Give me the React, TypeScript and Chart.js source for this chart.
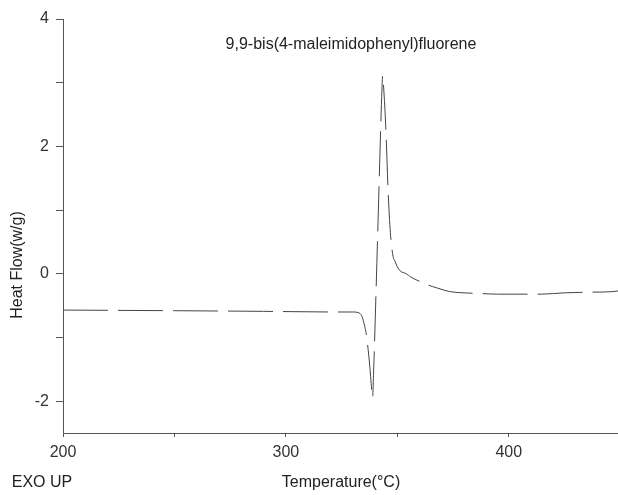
import React, { useEffect, useRef } from "react";
import { Chart, registerables } from "chart.js";

Chart.register(...registerables);

const chartTitle = "9,9-bis(4-maleimidophenyl)fluorene";
const xAxisTitle = "Temperature(°C)";
const yAxisTitle = "Heat Flow(w/g)";
const cornerNote = "EXO UP";

const xTicks = [200, 250, 300, 350, 400];
const xLabelled = [200, 300, 400];
const yTicks = [-2, -1, 0, 1, 2, 3, 4];
const yLabelled = [-2, 0, 2, 4];

const temperature = [
  200, 250, 290, 320, 330, 332.5, 334, 335.4, 336.2, 336.9, 337.5, 338.0, 338.5,
  338.9, 339.3, 341.2, 343.1, 343.4, 343.9, 344.8, 345.9, 346.5, 347.0, 348.1,
  348.9, 350, 351.1, 354, 356, 360, 364, 367.6, 373.5, 380, 387, 395, 405, 415,
  424.4, 435, 446.8, 449,
];
const heatFlow = [
  -0.57, -0.58, -0.59, -0.6, -0.6, -0.61, -0.66, -0.83, -0.98, -1.19, -1.4, -1.61,
  -1.82, -1.95, -1.6, 0.64, 2.9, 3.11, 2.9, 2.31, 1.27, 0.85, 0.59, 0.27, 0.2,
  0.11, 0.05, 0.0, -0.05, -0.12, -0.18, -0.22, -0.28, -0.3, -0.31, -0.32, -0.32,
  -0.32, -0.3, -0.29, -0.28, -0.27,
];

const FONT = '"Liberation Sans", Arial, sans-serif';

const textPlugin = {
  id: "textPlugin",
  afterDraw(chart: any) {
    const ctx = chart.ctx;
    ctx.save();
    ctx.fillStyle = "#222";
    ctx.font = `16px ${FONT}`;
    ctx.textAlign = "center";
    ctx.textBaseline = "middle";
    ctx.fillText(chartTitle, 351, 45);
    ctx.fillText(xAxisTitle, 341, 483);
    ctx.fillText(cornerNote, 42, 483);
    ctx.translate(18, 265);
    ctx.rotate(-Math.PI / 2);
    ctx.fillText(yAxisTitle, 0, 0);
    ctx.restore();
  },
};

export default function App() {
  const ref = useRef<HTMLCanvasElement | null>(null);

  useEffect(() => {
    document.body.style.margin = "0";
    const canvas = ref.current;
    if (!canvas) return;
    const points = temperature.map((t, i) => ({ x: t, y: heatFlow[i] }));
    const chart = new Chart(canvas, {
      type: "line",
      data: {
        datasets: [
          {
            data: points,
            borderColor: "#444",
            borderWidth: 1,
            borderDash: [45, 10],
            pointRadius: 0,
            cubicInterpolationMode: "monotone",
            fill: false,
          },
        ],
      },
      options: {
        animation: false,
        responsive: false,
        maintainAspectRatio: false,
        layout: { padding: { left: 0, top: 19, right: 0, bottom: 0 } },
        plugins: {
          legend: { display: false },
          title: { display: false },
          tooltip: { enabled: false },
        },
        scales: {
          x: {
            type: "linear",
            min: 200,
            max: 449,
            afterFit: (s: any) => {
              s.height = 62;
            },
            afterBuildTicks: (s: any) => {
              s.ticks = xTicks.map((v) => ({ value: v }));
            },
            grid: {
              display: true,
              drawOnChartArea: false,
              drawTicks: true,
              tickLength: 4,
              color: "#555",
            },
            border: { display: true, color: "#555" },
            ticks: {
              autoSkip: false,
              maxRotation: 0,
              padding: 6,
              color: "#333",
              font: { size: 16, family: FONT },
              callback: (v: any) => (xLabelled.includes(Number(v)) ? String(v) : ""),
            },
          },
          y: {
            type: "linear",
            min: -2.5,
            max: 4,
            afterFit: (s: any) => {
              s.width = 63;
            },
            afterBuildTicks: (s: any) => {
              s.ticks = yTicks.map((v) => ({ value: v }));
            },
            grid: {
              display: true,
              drawOnChartArea: false,
              drawTicks: true,
              tickLength: 7,
              color: "#555",
            },
            border: { display: true, color: "#555" },
            ticks: {
              autoSkip: false,
              padding: 7,
              color: "#333",
              font: { size: 16, family: FONT },
              callback: (v: any) => (yLabelled.includes(Number(v)) ? String(v) : ""),
            },
          },
        },
      },
      plugins: [textPlugin],
    });
    return () => chart.destroy();
  }, []);

  return (
    <canvas
      ref={ref}
      width={618}
      height={495}
      style={{ display: "block", width: 618, height: 495 }}
    />
  );
}
